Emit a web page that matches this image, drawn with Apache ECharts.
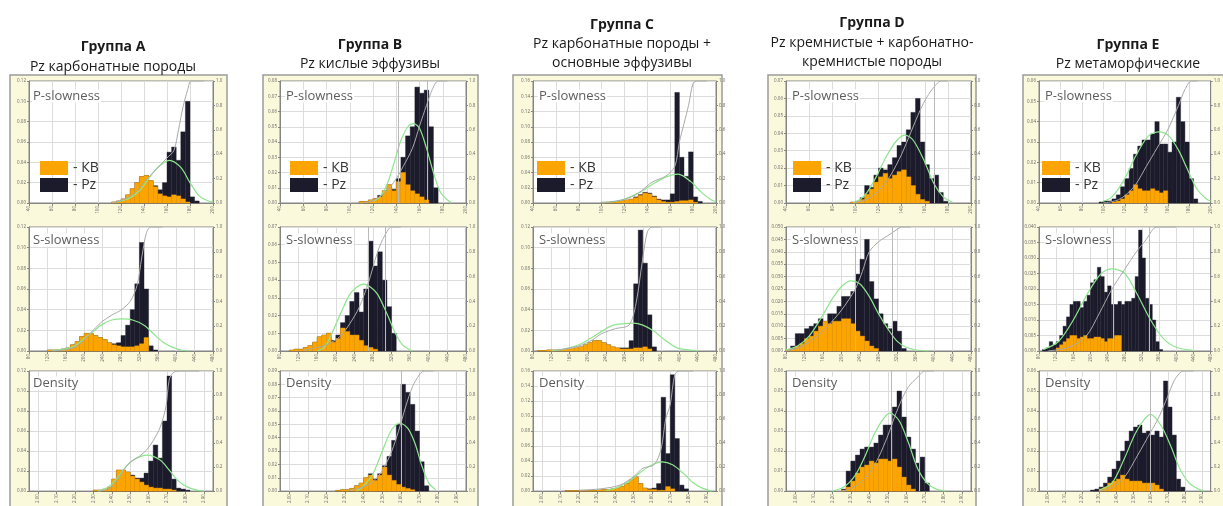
<!DOCTYPE html>
<html>
<head>
<meta charset="utf-8">
<script src="https://cdn.jsdelivr.net/npm/echarts@6/dist/echarts.min.js"></script>
<style>
  html, body { margin: 0; padding: 0; background: #fff; }
  #chart { width: 1223px; height: 506px; }
</style>
</head>
<body>
<div id="chart"></div>
<script>
// ---- Text ----
const groupTitles = ['Группа A', 'Группа B', 'Группа C', 'Группа D', 'Группа E'];
const groupSubtitles = [
  ['Pz карбонатные породы'],
  ['Pz кислые эффузивы'],
  ['Pz карбонатные породы +', 'основные эффузивы'],
  ['Pz кремнистые + карбонатно-', 'кремнистые породы'],
  ['Pz метаморфические']
];
const panelNames = ['P-slowness', 'S-slowness', 'Density'];
const legendNames = ['КВ', 'Pz'];

// ---- Histogram bin widths (axis units) ----
const binP = 4, binS = 10, binD = 0.025, binS_E = 8;

// ---- Group A ----
const aP_pz = [0.001,0.002,0.004,0.008,0.014,0.02,0.026,0.027,0.022,0.017,0.013,0.02,0.05,0.055,0.042,0.07,0.1,0.006,0.002];
const aP_kb = [0.001,0.002,0.004,0.008,0.014,0.02,0.026,0.027,0.022,0.016,0.009,0.007,0.006,0.008,0.007,0.004,0.001];
const aP_fit = [[116,0.001],[126,0.004],[136,0.012],[144,0.024],[152,0.035],[162,0.042],[172,0.035],[180,0.02],[188,0.007],[196,0.002],[200,0.001]];
const aP_cum = [[112,0],[120,0.02],[130,0.07],[140,0.17],[150,0.27],[160,0.37],[166,0.43],[170,0.6],[174,0.79],[178,0.93],[181,1],[192,1]];

const aS_pz = [0.001,0.001,0.001,0.002,0.003,0.006,0.009,0.014,0.017,0.017,0.015,0.013,0.011,0.008,0.007,0.008,0.015,0.025,0.04,0.065,0.105,0.06,0.005,0.001];
const aS_kb = [0.001,0.001,0.001,0.002,0.003,0.006,0.009,0.014,0.017,0.017,0.015,0.013,0.011,0.008,0.006,0.005,0.004,0.004,0.004,0.005,0.007,0.013];
const aS_fit = [[130,0.0005],[160,0.002],[180,0.005],[200,0.012],[220,0.019],[240,0.026],[260,0.03],[282,0.031],[305,0.03],[330,0.025],[350,0.017],[370,0.009],[390,0.004],[410,0.001],[430,0]];
const aS_cum = [[130,0],[160,0.01],[180,0.03],[200,0.09],[220,0.17],[240,0.24],[260,0.29],[280,0.33],[300,0.4],[315,0.53],[325,0.75],[335,0.95],[345,1],[370,1]];

const aD_pz = [0.001,0.001,0.002,0.004,0.012,0.021,0.021,0.019,0.016,0.013,0.013,0.018,0.03,0.046,0.033,0.07,0.115,0.012,0.003,0.002,0.001];
const aD_kb = [0.001,0.001,0.002,0.004,0.012,0.021,0.021,0.019,0.015,0.012,0.009,0.006,0.004,0.003,0.003,0.002,0.002,0.001];
const aD_fit = [[2.325,0],[2.3625,0.002],[2.4,0.007],[2.4375,0.015],[2.475,0.024],[2.525,0.032],[2.594,0.036],[2.6625,0.031],[2.7125,0.021],[2.7625,0.01],[2.8125,0.004],[2.8625,0.001],[2.9,0]];
const aD_cum = [[2.325,0],[2.3875,0.02],[2.425,0.08],[2.4625,0.17],[2.5,0.24],[2.55,0.29],[2.5875,0.34],[2.625,0.42],[2.6625,0.53],[2.694,0.7],[2.7125,0.93],[2.7375,0.99],[2.775,1],[2.875,1]];

// ---- Group B ----
const bP_pz = [0.001,0.001,0.002,0.003,0.005,0.008,0.012,0.009,0.016,0.03,0.044,0.05,0.076,0.072,0.074,0.05,0.01];
const bP_kb = [0.001,0.001,0.002,0.003,0.004,0.008,0.012,0.008,0.014,0.02,0.012,0.008,0.006,0.004,0.002];
const bP_fit = [[120,0.001],[126,0.004],[132,0.012],[138,0.026],[144,0.041],[150,0.05],[155,0.052],[160,0.049],[166,0.036],[172,0.02],[178,0.007],[184,0.002],[188,0]];
const bP_cum = [[110,0],[120,0.02],[130,0.08],[140,0.2],[146,0.3],[154,0.45],[160,0.63],[166,0.8],[171,0.93],[176,1],[184,1]];
const bP_marks = [142, 167];

const bS_pz = [0.0005,0.001,0.001,0.002,0.003,0.005,0.008,0.009,0.01,0.006,0.009,0.016,0.02,0.028,0.033,0.022,0.035,0.062,0.048,0.056,0.04,0.025,0.01];
const bS_kb = [0.0005,0.001,0.001,0.002,0.003,0.005,0.008,0.009,0.01,0.005,0.007,0.013,0.011,0.009,0.009,0.006,0.003,0.002,0.001];
const bS_fit = [[160,0],[175,0.002],[190,0.009],[210,0.021],[230,0.032],[245,0.036],[260,0.0377],[275,0.036],[290,0.032],[310,0.021],[330,0.009],[345,0.003],[365,0]];
const bS_cum = [[130,0.005],[180,0.05],[210,0.12],[230,0.22],[250,0.35],[270,0.55],[290,0.8],[305,0.93],[320,1],[340,1]];
const bS_marks = [270, 306];

const bD_pz = [0.0005,0.001,0.001,0.002,0.004,0.006,0.01,0.013,0.009,0.013,0.019,0.026,0.038,0.05,0.08,0.074,0.065,0.045,0.022,0.004];
const bD_kb = [0.0005,0.001,0.001,0.002,0.004,0.006,0.01,0.012,0.008,0.012,0.018,0.012,0.008,0.005,0.003,0.002,0.001];
const bD_fit = [[2.3625,0],[2.4,0.004],[2.45,0.013],[2.5,0.03],[2.55,0.046],[2.594,0.051],[2.6375,0.047],[2.675,0.036],[2.7125,0.019],[2.75,0.006],[2.7875,0.001]];
const bD_cum = [[2.325,0.005],[2.3875,0.03],[2.45,0.08],[2.5,0.17],[2.55,0.33],[2.5875,0.5],[2.625,0.7],[2.6625,0.87],[2.7,0.97],[2.725,1],[2.775,1]];
const bD_marks = [2.6];

// ---- Group C ----
const cP_pz = [0.001,0.001,0.002,0.002,0.003,0.004,0.005,0.008,0.011,0.014,0.013,0.009,0.005,0.004,0.004,0.012,0.145,0.06,0.035,0.067,0.008,0.002];
const cP_kb = [0.0005,0.001,0.001,0.002,0.003,0.004,0.005,0.007,0.01,0.013,0.012,0.008,0.004,0.002,0.001,0.001,0.002,0.003,0.003,0.004,0.001];
const cP_fit = [[100,0.0005],[112,0.002],[120,0.005],[132,0.013],[144,0.024],[156,0.034],[167,0.038],[178,0.028],[188,0.013],[196,0.004],[200,0.002]];
const cP_cum = [[100,0],[120,0.03],[132,0.08],[144,0.17],[156,0.22],[164,0.3],[168,0.5],[172,0.65],[176,0.8],[180,0.98],[184,1],[192,1]];

const cS_pz = [0.0005,0.0005,0.001,0.001,0.001,0.001,0.002,0.002,0.003,0.004,0.006,0.008,0.01,0.01,0.008,0.006,0.004,0.003,0.003,0.003,0.01,0.065,0.117,0.085,0.035,0.004];
const cS_kb = [0.0005,0.0005,0.001,0.001,0.001,0.001,0.002,0.002,0.003,0.004,0.006,0.008,0.01,0.01,0.008,0.006,0.004,0.003,0.002,0.002,0.002,0.003,0.003,0.004,0.002];
const cS_fit = [[120,0],[150,0.002],[180,0.006],[205,0.012],[230,0.019],[255,0.025],[280,0.0265],[300,0.027],[320,0.025],[345,0.019],[370,0.01],[395,0.003],[420,0.001],[440,0]];
const cS_cum = [[130,0.005],[180,0.04],[210,0.09],[230,0.14],[260,0.18],[290,0.21],[305,0.38],[320,0.75],[330,0.96],[340,1],[360,1]];

const cD_pz = [0.0005,0.0005,0.0005,0.001,0.001,0.001,0.001,0.0015,0.002,0.002,0.003,0.004,0.006,0.01,0.015,0.019,0.01,0.004,0.003,0.004,0.01,0.125,0.05,0.155,0.07,0.008,0.003];
const cD_kb = [0.0005,0.0005,0.0005,0.001,0.001,0.001,0.001,0.0015,0.002,0.002,0.003,0.004,0.006,0.01,0.015,0.019,0.01,0.004,0.002,0.002,0.001,0.001,0.006,0.003];
const cD_fit = [[2.35,0.001],[2.4125,0.005],[2.475,0.013],[2.5375,0.025],[2.6,0.035],[2.656,0.039],[2.7125,0.035],[2.775,0.023],[2.825,0.011],[2.875,0.004],[2.925,0]];
const cD_cum = [[2.2,0.005],[2.325,0.02],[2.425,0.05],[2.5,0.12],[2.55,0.19],[2.6125,0.22],[2.65,0.35],[2.675,0.6],[2.7,0.72],[2.725,0.97],[2.75,1],[2.825,1]];

// ---- Group D ----
const dP_pz = [0.0005,0.001,0.003,0.01,0.009,0.016,0.02,0.019,0.022,0.026,0.033,0.035,0.042,0.052,0.06,0.035,0.022,0.014,0.016,0.006,0.001];
const dP_kb = [0.0005,0.001,0.002,0.005,0.008,0.012,0.015,0.017,0.014,0.016,0.018,0.019,0.015,0.01,0.005,0.002,0.001];
const dP_fit = [[98,0],[104,0.002],[110,0.006],[118,0.015],[127,0.027],[136,0.036],[143,0.039],[150,0.036],[159,0.025],[168,0.011],[176,0.0035],[184,0.0005]];
const dP_cum = [[100,0.005],[110,0.03],[120,0.1],[130,0.22],[140,0.4],[148,0.58],[156,0.76],[162,0.87],[168,0.95],[174,1],[180,1]];
const dP_marks = [168];

const dS_pz = [0.0005,0.002,0.007,0.007,0.009,0.01,0.011,0.013,0.012,0.015,0.015,0.018,0.022,0.022,0.024,0.031,0.037,0.045,0.028,0.021,0.015,0.011,0.009,0.012,0.008,0.001];
const dS_kb = [0.0005,0.001,0.002,0.003,0.005,0.006,0.008,0.01,0.012,0.011,0.012,0.012,0.013,0.013,0.011,0.008,0.006,0.004,0.002,0.001];
const dS_fit = [[80,0.0005],[105,0.002],[130,0.006],[155,0.013],[180,0.021],[200,0.026],[220,0.0283],[240,0.027],[260,0.022],[280,0.015],[300,0.009],[320,0.004],[340,0.0015],[365,0.0003],[390,0]];
const dS_cum = [[80,0],[110,0.03],[140,0.1],[170,0.2],[200,0.33],[230,0.5],[245,0.64],[260,0.8],[280,0.88],[300,0.93],[320,0.98],[330,1],[350,1]];
const dS_marks = [229, 309];

const dD_pz = [0.001,0.01,0.015,0.018,0.021,0.022,0.022,0.024,0.028,0.033,0.033,0.042,0.05,0.037,0.027,0.021,0.014,0.017,0.004];
const dD_kb = [0.0005,0.002,0.005,0.009,0.012,0.013,0.015,0.014,0.016,0.016,0.015,0.016,0.012,0.007,0.003,0.001];
const dD_fit = [[2.2,0],[2.2625,0.002],[2.325,0.008],[2.375,0.017],[2.425,0.028],[2.475,0.036],[2.5125,0.039],[2.5625,0.035],[2.6125,0.024],[2.6625,0.011],[2.7125,0.004],[2.7625,0.001],[2.8125,0]];
const dD_cum = [[2.25,0],[2.3,0.02],[2.35,0.07],[2.4,0.15],[2.45,0.28],[2.5,0.46],[2.5375,0.62],[2.575,0.76],[2.6125,0.87],[2.6625,0.95],[2.7,1],[2.75,1]];
const dD_marks = [2.52, 2.67];

// ---- Group E ----
const eP_pz = [0.0005,0.001,0.001,0.002,0.004,0.008,0.012,0.017,0.024,0.028,0.031,0.031,0.034,0.04,0.029,0.029,0.025,0.03,0.052,0.04,0.03,0.012,0.002];
const eP_kb = [0.0005,0.001,0.002,0.004,0.006,0.009,0.007,0.006,0.006,0.007,0.006,0.005,0.006];
const eP_fit = [[98,0.0005],[108,0.003],[120,0.012],[130,0.023],[142,0.033],[152,0.035],[161,0.033],[170,0.026],[178,0.017],[187,0.007],[196,0.002],[200,0.001]];
const eP_cum = [[100,0],[112,0.02],[120,0.06],[130,0.15],[140,0.3],[150,0.45],[160,0.6],[170,0.8],[176,0.93],[182,1],[188,1]];

const eS_pz = [0.0005,0.001,0.003,0.002,0.003,0.005,0.008,0.011,0.015,0.016,0.016,0.014,0.016,0.018,0.022,0.023,0.027,0.024,0.019,0.021,0.015,0.015,0.016,0.015,0.016,0.016,0.017,0.024,0.039,0.03,0.017,0.015,0.01,0.003,0.0005];
const eS_kb = [0.001,0.002,0.003,0.004,0.005,0.005,0.004,0.0045,0.005,0.004,0.004,0.0045,0.0045,0.004,0.003,0.004,0.004,0.005,0.005];
const eS_fit = [[90,0.0005],[125,0.003],[160,0.01],[195,0.019],[225,0.025],[250,0.0265],[280,0.025],[310,0.018],[340,0.01],[370,0.004],[400,0.0012],[440,0.0002]];
const eS_cum = [[100,0],[150,0.03],[190,0.12],[220,0.3],[250,0.5],[280,0.66],[307,0.8],[330,0.9],[345,0.98],[355,1],[400,1]];
const eS_marks = [253, 336];

const eD_pz = [0.0005,0.001,0.002,0.004,0.007,0.011,0.015,0.02,0.025,0.03,0.032,0.033,0.029,0.03,0.028,0.03,0.027,0.055,0.042,0.028,0.006,0.002];
const eD_kb = [0.001,0.002,0.004,0.005,0.006,0.008,0.006,0.005,0.005,0.005,0.004,0.004,0.004,0.003,0.001];
const eD_fit = [[2.3,0.0005],[2.375,0.004],[2.446,0.016],[2.519,0.03],[2.6,0.0383],[2.6625,0.0325],[2.7175,0.0225],[2.771,0.011],[2.825,0.004],[2.88,0.001],[2.9125,0]];
const eD_cum = [[2.3,0],[2.375,0.03],[2.45,0.12],[2.525,0.3],[2.6,0.49],[2.65,0.62],[2.7,0.79],[2.7375,0.92],[2.775,0.99],[2.8,1],[2.85,1]];
const eD_marks = [2.6];

// ---- Panel table: group index, row, data and left-axis scale ----
const panels = [
  {g:0, r:0, pz:aP_pz, pz0:112,  kb:aP_kb, kb0:112,  w:binP, fit:aP_fit, cum:aP_cum, ymax:0.12, yint:0.02,  marks:[]},
  {g:0, r:1, pz:aS_pz, pz0:120,  kb:aS_kb, kb0:120,  w:binS, fit:aS_fit, cum:aS_cum, ymax:0.12, yint:0.02,  marks:[]},
  {g:0, r:2, pz:aD_pz, pz0:2.3,  kb:aD_kb, kb0:2.3,  w:binD, fit:aD_fit, cum:aD_cum, ymax:0.12, yint:0.02,  marks:[]},
  {g:1, r:0, pz:bP_pz, pz0:108,  kb:bP_kb, kb0:108,  w:binP, fit:bP_fit, cum:bP_cum, ymax:0.08, yint:0.01,  marks:bP_marks},
  {g:1, r:1, pz:bS_pz, pz0:100,  kb:bS_kb, kb0:100,  w:binS, fit:bS_fit, cum:bS_cum, ymax:0.07, yint:0.01,  marks:bS_marks},
  {g:1, r:2, pz:bD_pz, pz0:2.25, kb:bD_kb, kb0:2.25, w:binD, fit:bD_fit, cum:bD_cum, ymax:0.09, yint:0.01,  marks:bD_marks},
  {g:2, r:0, pz:cP_pz, pz0:100,  kb:cP_kb, kb0:100,  w:binP, fit:cP_fit, cum:cP_cum, ymax:0.16, yint:0.02,  marks:[]},
  {g:2, r:1, pz:cS_pz, pz0:90,   kb:cS_kb, kb0:90,   w:binS, fit:cS_fit, cum:cS_cum, ymax:0.12, yint:0.02,  marks:[]},
  {g:2, r:2, pz:cD_pz, pz0:2.125,kb:cD_kb, kb0:2.125,w:binD, fit:cD_fit, cum:cD_cum, ymax:0.16, yint:0.02,  marks:[]},
  {g:3, r:0, pz:dP_pz, pz0:96,   kb:dP_kb, kb0:96,   w:binP, fit:dP_fit, cum:dP_cum, ymax:0.07, yint:0.01,  marks:dP_marks},
  {g:3, r:1, pz:dS_pz, pz0:80,   kb:dS_kb, kb0:80,   w:binS, fit:dS_fit, cum:dS_cum, ymax:0.05, yint:0.005, marks:dS_marks},
  {g:3, r:2, pz:dD_pz, pz0:2.25, kb:dD_kb, kb0:2.25, w:binD, fit:dD_fit, cum:dD_cum, ymax:0.06, yint:0.01,  marks:dD_marks},
  {g:4, r:0, pz:eP_pz, pz0:96,   kb:eP_kb, kb0:108,  w:binP, fit:eP_fit, cum:eP_cum, ymax:0.06, yint:0.01,  marks:[]},
  {g:4, r:1, pz:eS_pz, pz0:88,   kb:eS_kb, kb0:120,  w:binS_E, fit:eS_fit, cum:eS_cum, ymax:0.04, yint:0.005, marks:eS_marks},
  {g:4, r:2, pz:eD_pz, pz0:2.25, kb:eD_kb, kb0:2.3,  w:binD, fit:eD_fit, cum:eD_cum, ymax:0.06, yint:0.01,  marks:eD_marks}
];

// ---- Layout ----
const FONT = '"Open Sans", "Noto Sans", "DejaVu Sans", sans-serif';
const cols = [
  {left: 29,   width: 184, frameX: 10,   frameW: 217, textX: 113,  legendX: 40},
  {left: 280,  width: 186, frameX: 263,  frameW: 215, textX: 370,  legendX: 290},
  {left: 533,  width: 183, frameX: 513,  frameW: 209, textX: 622,  legendX: 537},
  {left: 786,  width: 185, frameX: 768,  frameW: 208, textX: 872,  legendX: 793},
  {left: 1039, width: 185, frameX: 1023, frameW: 212, textX: 1128, legendX: 1042}
];
const rows = [
  {top: 81,  height: 122, labelDy: 15},
  {top: 227, height: 124, labelDy: 13},
  {top: 371, height: 121, labelDy: 12}
];
const titleY = [[47, 67], [45, 64], [25, 44, 63], [23, 43, 62], [45, 64]];

// x-axis scales per row kind
const xScales = [
  {min: 40, max: 200, interval: 20, fmt: v => v.toFixed(0)},
  {min: 80, max: 480, interval: 40, fmt: v => v.toFixed(0)},
  {min: 1.95, max: 2.95, splitNumber: 10, fmt: v => v.toFixed(2), hideEnds: true}
];

const COLOR_KB = '#fca400';
const COLOR_PZ = '#1c1b2c';
const COLOR_FIT = '#8ee58e';
const COLOR_CUM = '#a9a9a9';
const AXIS_GRAY = '#858585';
const GRID_GRAY = '#dcdcdc';

function toBins(start, width, heights) {
  return heights.map((h, k) => [start + k * width, start + (k + 1) * width, h]);
}

function renderBin(params, api) {
  const x0 = api.value(0), x1 = api.value(1), h = api.value(2);
  const top = api.coord([x0, h]);
  const base = api.coord([x1, 0]);
  const color = api.visual('color');
  return {
    type: 'rect',
    shape: {x: top[0], y: top[1], width: base[0] - top[0], height: base[1] - top[1]},
    style: {fill: color, stroke: color, lineWidth: 0.4}
  };
}

const option = {
  animation: false,
  backgroundColor: '#ffffff',
  textStyle: {fontFamily: FONT},
  grid: [], xAxis: [], yAxis: [], series: [], legend: [], graphic: []
};

// group frames and titles
cols.forEach((c, g) => {
  option.graphic.push({
    type: 'rect', z: -10, silent: true,
    shape: {x: c.frameX, y: 75, width: c.frameW, height: 445},
    style: {fill: '#fbf9dc', stroke: '#9c9c9c', lineWidth: 1.5}
  });
  const lines = [groupTitles[g]].concat(groupSubtitles[g]);
  lines.forEach((t, k) => {
    option.graphic.push({
      type: 'text', z: 10, silent: true,
      style: {
        text: t, x: c.textX, y: titleY[g][k],
        fill: '#1a1a1a',
        font: (k === 0 ? 'bold 14px ' : '14px ') + FONT,
        textAlign: 'center', textVerticalAlign: 'middle',
        align: 'center', verticalAlign: 'middle'
      }
    });
  });
  option.legend.push({
    left: c.legendX, top: 161, orient: 'vertical', padding: 0,
    itemWidth: 28, itemHeight: 14, itemGap: 3, icon: 'rect',
    selectedMode: false, data: legendNames,
    formatter: '- {name}',
    textStyle: {fontSize: 14, color: '#333', fontFamily: FONT}
  });
});

panels.forEach((p, i) => {
  const c = cols[p.g], r = rows[p.r];
  const xs = xScales[p.r];
  const yDec = p.yint < 0.01 ? 3 : 2;

  option.grid.push({
    left: c.left, top: r.top, width: c.width, height: r.height,
    show: true, backgroundColor: '#ffffff', borderColor: AXIS_GRAY, borderWidth: 1
  });

  const xa = {
    type: 'value', gridIndex: i, min: xs.min, max: xs.max,
    axisLine: {show: true, onZero: false, lineStyle: {color: AXIS_GRAY}},
    axisTick: {show: true, length: 3, lineStyle: {color: AXIS_GRAY}},
    axisLabel: {
      fontSize: 4.5, color: '#666', rotate: 90, margin: 3,
      formatter: xs.fmt
    },
    splitLine: {show: true, lineStyle: {color: GRID_GRAY, width: 1}}
  };
  if (xs.interval) xa.interval = xs.interval; else xa.splitNumber = xs.splitNumber;
  if (xs.hideEnds) { xa.axisLabel.showMinLabel = false; xa.axisLabel.showMaxLabel = false; }
  option.xAxis.push(xa);

  option.yAxis.push({
    type: 'value', gridIndex: i, position: 'left', min: 0, max: p.ymax, interval: p.yint,
    axisLine: {show: true, lineStyle: {color: AXIS_GRAY}},
    axisTick: {show: true, length: 2, lineStyle: {color: AXIS_GRAY}},
    axisLabel: {fontSize: 4.5, color: '#666', margin: 3, formatter: v => v.toFixed(yDec)},
    splitLine: {show: true, lineStyle: {color: GRID_GRAY, width: 1}}
  });
  option.yAxis.push({
    type: 'value', gridIndex: i, position: 'right', min: 0, max: 1, interval: 0.2,
    axisLine: {show: true, lineStyle: {color: AXIS_GRAY}},
    axisTick: {show: true, length: 2, lineStyle: {color: AXIS_GRAY}},
    axisLabel: {fontSize: 4.5, color: '#666', margin: 3, formatter: v => v.toFixed(1)},
    splitLine: {show: false}
  });

  const yl = 2 * i, yr = 2 * i + 1;

  option.series.push({
    type: 'custom', name: 'Pz', xAxisIndex: i, yAxisIndex: yl,
    renderItem: renderBin, itemStyle: {color: COLOR_PZ},
    encode: {x: [0, 1], y: 2},
    data: toBins(p.pz0, p.w, p.pz), z: 2
  });
  option.series.push({
    type: 'custom', name: 'КВ', xAxisIndex: i, yAxisIndex: yl,
    renderItem: renderBin, itemStyle: {color: COLOR_KB},
    encode: {x: [0, 1], y: 2},
    data: toBins(p.kb0, p.w, p.kb), z: 3
  });
  option.series.push({
    type: 'line', name: 'fit', xAxisIndex: i, yAxisIndex: yl,
    data: p.fit, showSymbol: false, smooth: 0.3,
    lineStyle: {color: COLOR_FIT, width: 1.2}, z: 4, silent: true
  });
  option.series.push({
    type: 'line', name: 'cumulative', xAxisIndex: i, yAxisIndex: yr,
    data: p.cum, showSymbol: false, smooth: 0.3,
    lineStyle: {color: COLOR_CUM, width: 1}, z: 4, silent: true,
    markLine: {
      silent: true, symbol: 'none', label: {show: false},
      lineStyle: {color: '#b9b9b9', width: 1, type: 'solid'},
      data: p.marks.map(v => ({xAxis: v}))
    }
  });

  option.graphic.push({
    type: 'text', z: 10, silent: true,
    style: {
      text: panelNames[p.r], x: c.left + (p.g === 0 ? 3 : 5), y: r.top + r.labelDy,
      fill: '#5d5d5d', font: '13px ' + FONT,
      textVerticalAlign: 'middle', verticalAlign: 'middle',
      backgroundColor: '#ffffff', padding: [0, 1]
    }
  });
});

const chart = echarts.init(document.getElementById('chart'), null, {renderer: 'canvas'});
chart.setOption(option);
</script>
</body>
</html>
